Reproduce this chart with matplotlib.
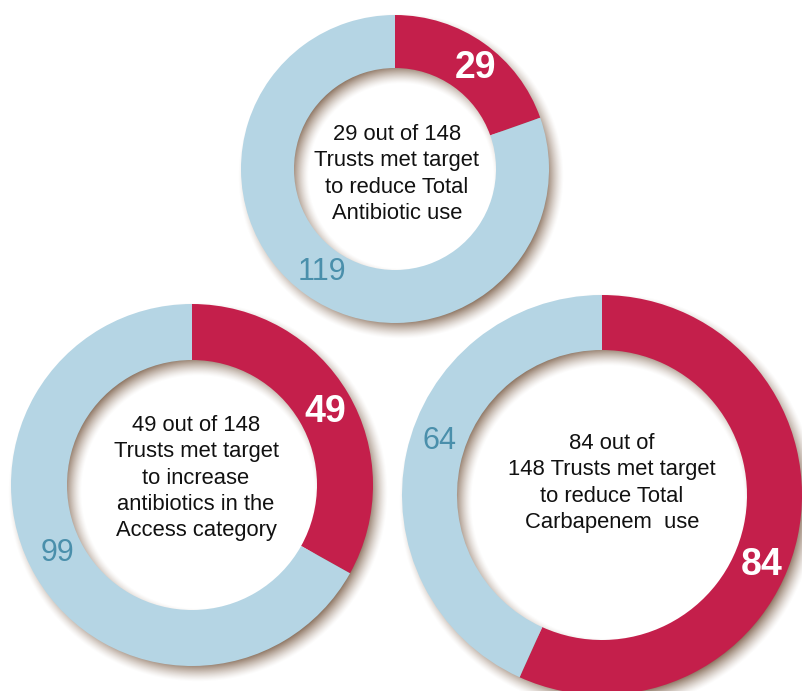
import numpy as np
import matplotlib
matplotlib.use("Agg")
from matplotlib import pyplot as plt

plt.rcParams['font.family'] = ['Liberation Sans', 'DejaVu Sans']

W, H = 802, 691

# data: trusts meeting each target (met, not met)
met = [29, 49, 84]
not_met = [119, 99, 64]
captions = [
    "29 out of 148\nTrusts met target\nto reduce Total\nAntibiotic use",
    "49 out of 148\nTrusts met target\nto increase\nantibiotics in the\nAccess category",
    "84 out of\n148 Trusts met target\nto reduce Total\nCarbapenem  use",
]

# layout in pixel coords (y from top)
centers = [(395, 169), (192, 485), (602, 495)]
r_out = [154, 181, 200]
r_in = [101, 125, 145]
text_pos = [(397, 174), (196, 478), (612, 483)]
met_lbl = [(476, 68), (325, 412), (762, 565)]
rest_lbl = [(322, 272), (58, 553), (440, 441)]

red = "#c41f4b"
blue = "#b5d5e4"
teal = "#4a8fab"

fig = plt.figure(figsize=(W / 100, H / 100), dpi=100)
ax = fig.add_axes([0, 0, 1, 1])

# soft drop shadow behind each ring
yy, xx = np.mgrid[0:H, 0:W] + 0.5
alpha = np.zeros((H, W))
for (cx, cy), ro, ri in zip(centers, r_out, r_in):
    d = np.hypot(xx - cx - 6, yy - cy - 7)
    sd = np.maximum(ri - d, d - ro)
    a = np.clip(0.45 - sd / 20.0, 0, 1) ** 1.4
    alpha = np.maximum(alpha, a)
img = np.zeros((H, W, 4))
img[..., 0] = 0.47
img[..., 1] = 0.35
img[..., 2] = 0.26
img[..., 3] = alpha * 0.95
ax.imshow(img, extent=(0, W, 0, H), origin="upper", zorder=1)

for i in range(3):
    cx, cy = centers[i]
    ax.pie([met[i], not_met[i]], colors=[red, blue], startangle=90,
           counterclock=False, radius=r_out[i], center=(cx, H - cy),
           wedgeprops=dict(width=r_out[i] - r_in[i], linewidth=0))
    for p in ax.patches[-2:]:
        p.set_zorder(2)
    tx, ty = text_pos[i]
    ax.text(tx, H - ty, captions[i], ha="center", va="center", fontsize=15.8,
            linespacing=1.34, color="#111111", zorder=3)
    mx, my = met_lbl[i]
    ax.text(mx, H - my, str(met[i]), ha="center", va="center", fontsize=27,
            fontweight="bold", color="white", zorder=3)
    rx, ry = rest_lbl[i]
    ax.text(rx, H - ry, str(not_met[i]), ha="center", va="center", fontsize=22,
            color=teal, zorder=3)

ax.set_xlim(0, W)
ax.set_ylim(0, H)
ax.set_aspect("auto")
ax.axis("off")
fig.savefig("out.png", dpi=100, facecolor="white")
